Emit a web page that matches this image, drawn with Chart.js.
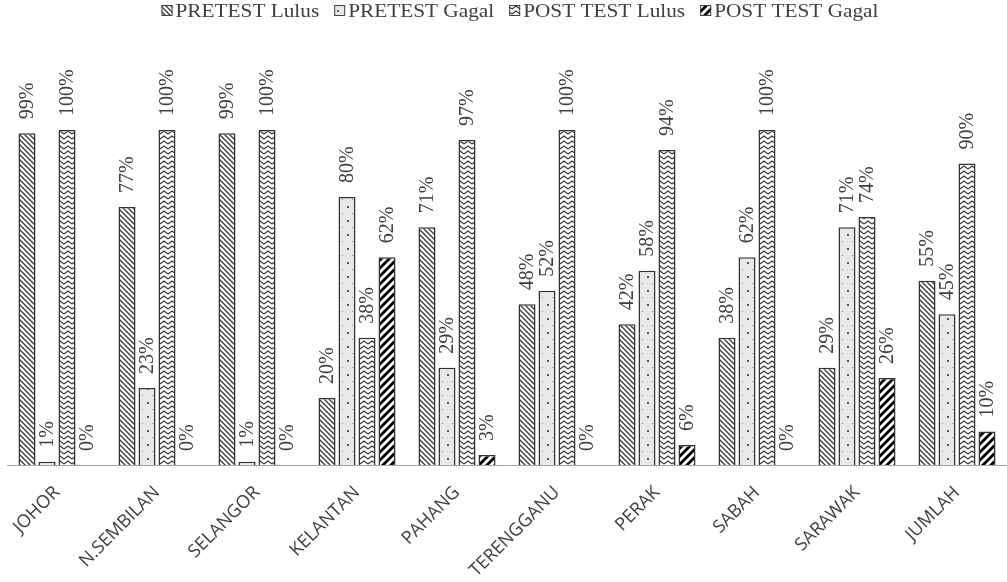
<!DOCTYPE html>
<html>
<head>
<meta charset="utf-8">
<script src="https://cdn.jsdelivr.net/npm/chart.js@4"></script>
<style>
  html, body { margin: 0; padding: 0; background: #ffffff; }
  #wrap { width: 1007px; height: 582px; position: relative; }
</style>
</head>
<body>
<div id="wrap"><canvas id="chart"></canvas></div>
<script>
// Regions (x-axis categories)
const categories = ['JOHOR', 'N.SEMBILAN', 'SELANGOR', 'KELANTAN', 'PAHANG', 'TERENGGANU', 'PERAK', 'SABAH', 'SARAWAK', 'JUMLAH'];

// Percentages per series
const pretestLulus   = [99, 77, 99, 20, 71, 48, 42, 38, 29, 55];
const pretestGagal   = [1, 23, 1, 80, 29, 52, 58, 62, 71, 45];
const posttestLulus  = [100, 100, 100, 38, 97, 100, 94, 100, 74, 90];
const posttestGagal  = [0, 0, 0, 62, 3, 0, 6, 0, 26, 10];

const seriesNames = ['PRETEST Lulus', 'PRETEST Gagal', 'POST TEST Lulus', 'POST TEST Gagal'];

const INK = '#404040';

// ---- fill patterns ----
function makeTile(w, h, paint) {
  const c = document.createElement('canvas');
  c.width = w; c.height = h;
  const g = c.getContext('2d');
  paint(g, w, h);
  return document.createElement('canvas').getContext('2d').createPattern(c, 'repeat');
}

// fine "\" hatching
const hatchBack = makeTile(5, 5, (g, w, h) => {
  g.fillStyle = '#ffffff'; g.fillRect(0, 0, w, h);
  g.strokeStyle = '#3a3a3a'; g.lineWidth = 1.3;
  g.beginPath();
  g.moveTo(-1, -1); g.lineTo(w + 1, h + 1);
  g.moveTo(-1, h - 1); g.lineTo(1, h + 1);
  g.moveTo(w - 1, -1); g.lineTo(w + 1, 1);
  g.stroke();
});

// light grey with sparse dots
const dotted = makeTile(10, 14, (g, w, h) => {
  g.fillStyle = '#e8e8e8'; g.fillRect(0, 0, w, h);
  g.fillStyle = '#8a8a8a';
  g.fillRect(2, 3, 1, 1);
  g.fillStyle = '#555555';
  g.fillRect(7, 10, 2, 2);
});

// stacked zigzag waves
const waves = makeTile(8, 5, (g, w, h) => {
  g.fillStyle = '#ffffff'; g.fillRect(0, 0, w, h);
  g.strokeStyle = '#3a3a3a'; g.lineWidth = 1.2;
  g.beginPath();
  g.moveTo(0, 4); g.lineTo(4, 1); g.lineTo(8, 4);
  g.stroke();
});

// wide black "/" stripes
const stripes = makeTile(8, 8, (g, w, h) => {
  g.fillStyle = '#ffffff'; g.fillRect(0, 0, w, h);
  g.strokeStyle = '#000000'; g.lineWidth = 2.8;
  g.beginPath();
  g.moveTo(-1, h + 1); g.lineTo(w + 1, -1);
  g.moveTo(-1, 1); g.lineTo(1, -1);
  g.moveTo(w - 1, h + 1); g.lineTo(w + 1, h - 1);
  g.stroke();
});

const fills = [hatchBack, dotted, waves, stripes];
const seriesData = [pretestLulus, pretestGagal, posttestLulus, posttestGagal];

// ---- value labels written vertically above each bar ----
const valueLabels = {
  id: 'valueLabels',
  afterDatasetsDraw(chart) {
    const ctx = chart.ctx;
    ctx.save();
    ctx.font = '20px "Liberation Serif", "Times New Roman", serif';
    ctx.fillStyle = INK;
    ctx.textAlign = 'left';
    ctx.textBaseline = 'middle';
    chart.data.datasets.forEach((ds, di) => {
      const meta = chart.getDatasetMeta(di);
      meta.data.forEach((bar, i) => {
        ctx.save();
        ctx.translate(bar.x, bar.y - 14);
        ctx.rotate(-Math.PI / 2);
        ctx.fillText(ds.data[i] + '%', 0, 1);
        ctx.restore();
      });
    });
    ctx.restore();
  }
};

// ---- legend row across the top ----
const topLegend = {
  id: 'topLegend',
  afterDraw(chart) {
    const ctx = chart.ctx;
    ctx.save();
    const fontSize = 19, stretch = 1.12;
    ctx.font = fontSize + 'px "Liberation Serif", "Times New Roman", serif';
    const box = 11, boxGap = 3, itemGap = 15;
    const widths = seriesNames.map(t => ctx.measureText(t).width * stretch);
    const total = widths.reduce((a, b) => a + b, 0) + seriesNames.length * (box + boxGap) + (seriesNames.length - 1) * itemGap;
    let x = 520 - total / 2;
    const baseY = 17;
    seriesNames.forEach((name, i) => {
      ctx.fillStyle = fills[i];
      ctx.fillRect(x, baseY - 12, box, box);
      ctx.strokeStyle = INK; ctx.lineWidth = 1;
      ctx.strokeRect(x + 0.5, baseY - 11.5, box - 1, box - 1);
      x += box + boxGap;
      ctx.save();
      ctx.translate(x, baseY);
      ctx.scale(stretch, 1);
      ctx.fillStyle = INK;
      ctx.textBaseline = 'alphabetic';
      ctx.fillText(name, 0, 0);
      ctx.restore();
      x += widths[i] + itemGap;
    });
    ctx.restore();
  }
};

new Chart(document.getElementById('chart'), {
  type: 'bar',
  data: {
    labels: categories,
    datasets: seriesData.map((d, i) => ({
      label: seriesNames[i],
      data: d,
      backgroundColor: fills[i],
      borderColor: '#333333',
      borderWidth: 1.5,
      borderSkipped: 'bottom',
      categoryPercentage: 0.8,
      barPercentage: 0.85
    }))
  },
  options: {
    responsive: true,
    maintainAspectRatio: false,
    animation: false,
    devicePixelRatio: 1,
    layout: { padding: { top: 63, left: 7, right: 0, bottom: 0 } },
    plugins: { legend: { display: false }, tooltip: { enabled: false } },
    scales: {
      y: { display: false, min: 0, max: 120 },
      x: {
        grid: { display: false },
        border: { display: true, color: '#a6a6a6', width: 1 },
        ticks: {
          color: INK,
          font: { family: '"Open Sans", "Liberation Sans", sans-serif', size: 18 },
          minRotation: 45,
          maxRotation: 45,
          padding: 9
        },
        afterFit(scale) { scale.height = 117; }
      }
    }
  },
  plugins: [valueLabels, topLegend]
});
</script>
</body>
</html>
